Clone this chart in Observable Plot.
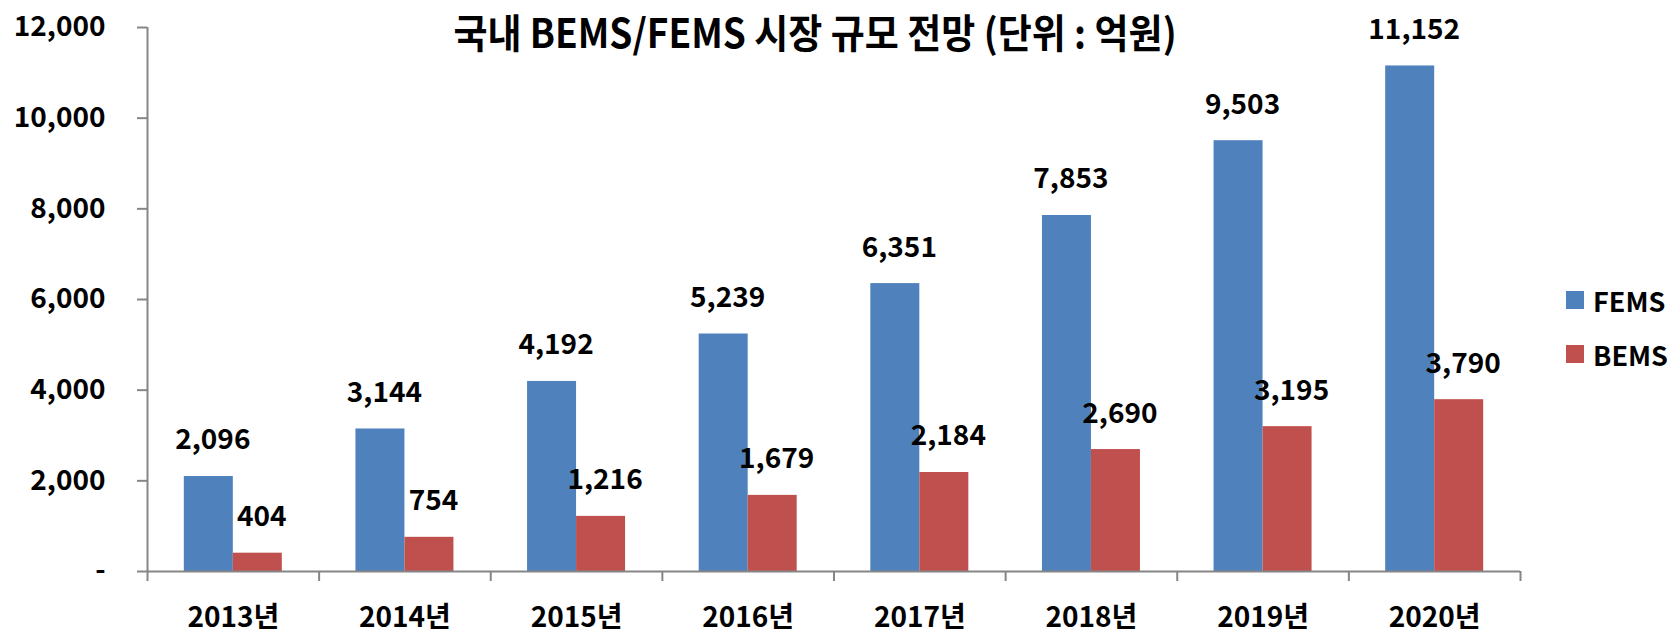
<!DOCTYPE html>
<html>
<head>
<meta charset="utf-8">
<script src="https://cdn.jsdelivr.net/npm/d3@7"></script>
<script src="https://cdn.jsdelivr.net/npm/@observablehq/plot@0.6"></script>
<style>
  html, body { margin: 0; padding: 0; background: #fff; }
  #wrap { position: relative; width: 1675px; height: 634px; font-family: "Noto Sans CJK KR", "Noto Sans", sans-serif; font-weight: bold; color: #000; }
  #title { position: absolute; left: 0; width: 1630px; top: 8px; text-align: center; font-size: 37px; line-height: 46px; transform: scaleY(1.08); }
  #legend { position: absolute; left: 1566px; top: 282px; font-size: 27px; }
  .item { display: flex; align-items: center; height: 36px; margin-bottom: 18px; }
  .sw { width: 18px; height: 18px; margin-right: 9px; }
</style>
</head>
<body>
<div id="wrap">
  <div id="chart"></div>
  <div id="title">국내 BEMS/FEMS 시장 규모 전망 (단위 : 억원)</div>
  <div id="legend"></div>
</div>
<script>
const years = [2013, 2014, 2015, 2016, 2017, 2018, 2019, 2020];
const femsValues = [2096, 3144, 4192, 5239, 6351, 7853, 9503, 11152];
const bemsValues = [404, 754, 1216, 1679, 2184, 2690, 3195, 3790];
const seriesNames = ["FEMS", "BEMS"];
const seriesColors = ["#4F81BD", "#C0504D"];
const yTicks = [0, 2000, 4000, 6000, 8000, 10000, 12000];

const data = [];
years.forEach((yr, i) => {
  data.push({year: yr, series: "FEMS", value: femsValues[i], k: 0});
  data.push({year: yr, series: "BEMS", value: bemsValues[i], k: 1});
});
const barW = 0.2855;
const boundaries = [...years.map(y => y - 0.5), years[years.length - 1] + 0.5];
const fmt = d3.format(",");

const chart = Plot.plot({
  width: 1675,
  height: 634,
  marginLeft: 147,
  marginRight: 155,
  marginTop: 27,
  marginBottom: 63,
  style: {fontFamily: "'Noto Sans CJK KR', 'Noto Sans', sans-serif", fontSize: "27px", fontWeight: "bold", color: "#000", background: "#fff"},
  x: {type: "linear", domain: [boundaries[0], boundaries[boundaries.length - 1]]},
  y: {domain: [0, 12000]},
  color: {domain: seriesNames, range: seriesColors},
  marks: [
    Plot.rectY(data, {
      x1: d => d.year - barW + d.k * barW,
      x2: d => d.year + d.k * barW,
      y: "value",
      fill: "series"
    }),
    Plot.text(data, {
      x: d => d.year - barW / 2 + d.k * barW,
      y: "value",
      text: d => fmt(d.value),
      dy: -36,
      dx: 4,
      lineAnchor: "middle",
      fontSize: 28,
      fontWeight: "bold",
      fill: "#000"
    }),
    Plot.ruleX([boundaries[0]], {stroke: "#868686", strokeWidth: 2}),
    Plot.ruleY([0], {stroke: "#868686", strokeWidth: 2}),
    Plot.axisY({ticks: yTicks, tickFormat: d => d === 0 ? "-" : fmt(d), tickSize: 10, tickPadding: 32, stroke: "#868686", strokeWidth: 2, label: null, fontSize: 28}),
    Plot.axisX({ticks: boundaries, tickFormat: () => "", tickSize: 10, stroke: "#868686", strokeWidth: 2, label: null}),
    Plot.axisX({ticks: years, tickFormat: d => d + "년", tickSize: 0, tickPadding: 36, label: null, fontSize: 28})
  ]
});
document.getElementById("chart").appendChild(chart);

const legend = document.getElementById("legend");
seriesNames.forEach((s, i) => {
  const it = document.createElement("div");
  it.className = "item";
  const sw = document.createElement("div");
  sw.className = "sw";
  sw.style.background = seriesColors[i];
  const t = document.createElement("span");
  t.textContent = s;
  it.appendChild(sw);
  it.appendChild(t);
  legend.appendChild(it);
});
</script>
</body>
</html>
